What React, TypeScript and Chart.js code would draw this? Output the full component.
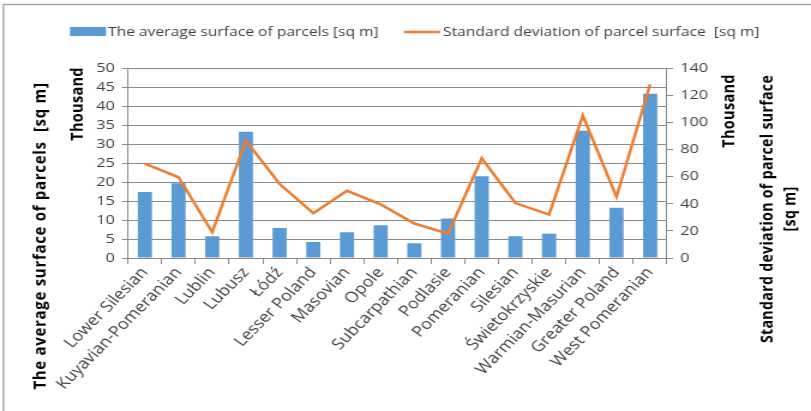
import React, { useEffect, useRef } from "react";
import { Chart, registerables } from "chart.js";

Chart.register(...registerables);

const categories = [
  "Lower Silesian",
  "Kuyavian-Pomeranian",
  "Lublin",
  "Lubusz",
  "Łódź",
  "Lesser Poland",
  "Masovian",
  "Opole",
  "Subcarpathian",
  "Podlasie",
  "Pomeranian",
  "Silesian",
  "Świetokrzyskie",
  "Warmian-Masurian",
  "Greater Poland",
  "West Pomeranian",
];

// thousand sq m (left axis)
const averageSurface = [17.4, 19.7, 5.7, 33.2, 7.9, 4.2, 6.8, 8.6, 3.9, 10.4, 21.5, 5.7, 6.4, 33.5, 13.2, 43.2];
// thousand sq m (right axis)
const stdDeviation = [69.5, 59.5, 19, 86.5, 54.5, 33, 49.5, 39.5, 25.4, 18, 73.5, 40.5, 32, 105, 45, 128];

const legendLabels = ["The average surface of parcels [sq m]", "Standard deviation of parcel surface  [sq m]"];
const leftTitle = "The average surface of parcels  [sq m]";
const rightTitleLines = ["Standard deviation of parcel surface", "[sq m]"];
const unitLabel = "Thousand";

const FONT = "'Open Sans', sans-serif";
const BLUE = "#5B9BD5";
const ORANGE = "#ED7D31";
const GRID = "#8a8a8a";
const TEXT = "#404040";

// the reference is drawn slightly stretched horizontally
const CW = 676;
const CH = 411;
const SX = 811 / CW;
const sx = (x: number) => x / SX;

const decorPlugin = {
  id: "decor",
  afterDraw(chart: any) {
    const ctx = chart.ctx as CanvasRenderingContext2D;
    ctx.save();
    // frame
    ctx.strokeStyle = "#a6a6a6";
    ctx.lineWidth = 1.5;
    ctx.beginPath();
    ctx.moveTo(sx(3.5), CH);
    ctx.lineTo(sx(3.5), 4.5);
    ctx.lineTo(CW, 4.5);
    ctx.stroke();

    // legend
    ctx.fillStyle = BLUE;
    ctx.fillRect(sx(70), 27, sx(106) - sx(70), 9);
    ctx.fillStyle = TEXT;
    ctx.font = `13px ${FONT}`;
    ctx.textAlign = "left";
    ctx.textBaseline = "middle";
    ctx.fillText(legendLabels[0], sx(108), 32);
    ctx.strokeStyle = ORANGE;
    ctx.lineWidth = 2.5;
    ctx.beginPath();
    ctx.moveTo(sx(404), 32);
    ctx.lineTo(sx(440), 32);
    ctx.stroke();
    ctx.fillText(legendLabels[1], sx(443), 32);

    // axis titles
    const vtext = (t: string, x: number, y: number, font: string, spacing = "0px") => {
      ctx.save();
      ctx.translate(sx(x), y);
      ctx.rotate(-Math.PI / 2);
      ctx.font = font;
      (ctx as any).letterSpacing = spacing;
      ctx.fillStyle = "#000000";
      ctx.textAlign = "center";
      ctx.textBaseline = "middle";
      ctx.fillText(t, 0, 0);
      ctx.restore();
    };
    vtext(leftTitle, 40, 236, `bold 15px ${FONT}`, "0.7px");
    vtext(unitLabel, 78, 104, `bold 14.5px ${FONT}`, "0.3px");
    vtext(unitLabel, 729, 111, `bold 14.5px ${FONT}`, "0.3px");
    vtext(rightTitleLines[0], 768, 209, `bold 14.2px ${FONT}`, "0.3px");
    vtext(rightTitleLines[1], 791, 209, `bold 14.2px ${FONT}`, "0.3px");
    ctx.restore();
  },
};

export default function App() {
  const ref = useRef<HTMLCanvasElement>(null);
  useEffect(() => {
    document.body.style.margin = "0";
    const canvas = ref.current!;
    const chart = new Chart(canvas, {
      type: "bar",
      data: {
        labels: categories,
        datasets: [
          {
            type: "line",
            label: legendLabels[1],
            data: stdDeviation,
            borderColor: ORANGE,
            backgroundColor: ORANGE,
            borderWidth: 2.5,
            pointRadius: 0,
            tension: 0,
            yAxisID: "y1",
            order: 0,
          } as any,
          {
            type: "bar",
            label: legendLabels[0],
            data: averageSurface,
            backgroundColor: BLUE,
            categoryPercentage: 1,
            barPercentage: 0.42,
            yAxisID: "y",
            order: 1,
          },
        ],
      },
      options: {
        animation: false,
        responsive: false,
        maintainAspectRatio: false,
        devicePixelRatio: 1,
        layout: { padding: { top: 68, left: 0, right: 0, bottom: 0 } },
        plugins: { legend: { display: false }, tooltip: { enabled: false } },
        scales: {
          x: {
            offset: true,
            grid: { offset: true, drawOnChartArea: false, drawTicks: true, tickLength: 6, color: GRID },
            border: { color: GRID },
            ticks: {
              autoSkip: false,
              minRotation: 50,
              maxRotation: 50,
              padding: 0,
              color: TEXT,
              font: { family: FONT, size: 15 },
            },
            afterFit: (s: any) => {
              s.height = 153;
            },
          },
          y: {
            position: "left",
            min: 0,
            max: 50,
            ticks: { stepSize: 5, autoSkip: false, padding: 6, color: TEXT, font: { family: FONT, size: 13.5 } },
            grid: { color: GRID, tickLength: 5 },
            border: { color: GRID },
            afterFit: (s: any) => {
              s.width = sx(128);
            },
          },
          y1: {
            position: "right",
            min: 0,
            max: 140,
            ticks: { stepSize: 20, autoSkip: false, padding: 6, color: TEXT, font: { family: FONT, size: 13.5 } },
            grid: { drawOnChartArea: false, color: GRID, tickLength: 5 },
            border: { color: GRID },
            afterFit: (s: any) => {
              s.width = sx(811 - 667);
            },
          },
        },
      } as any,
      plugins: [decorPlugin],
    });
    return () => chart.destroy();
  }, []);
  return (
    <div style={{ position: "fixed", left: 0, top: 0, width: 811, height: 411, background: "#fff" }}>
      <canvas ref={ref} width={CW} height={CH} style={{ width: 811, height: 411, display: "block" }} />
    </div>
  );
}
